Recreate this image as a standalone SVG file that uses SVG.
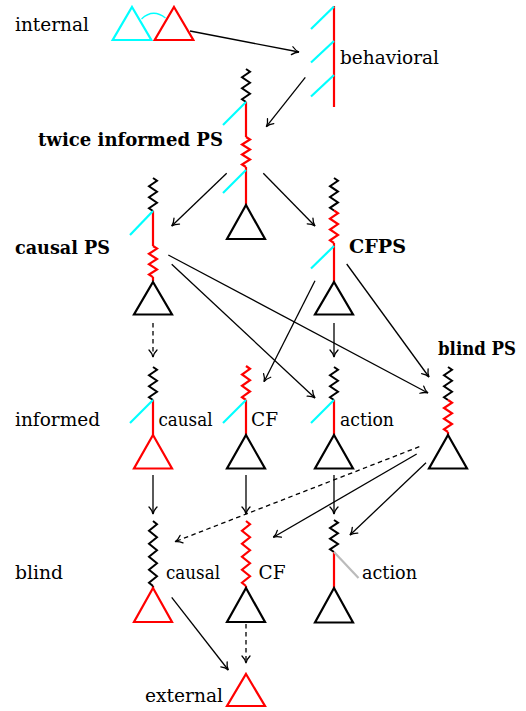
<svg xmlns="http://www.w3.org/2000/svg" width="526" height="711" viewBox="0 0 526 711">
<defs>
<marker id="arr" viewBox="-8 -6 10 12" markerWidth="10" markerHeight="12" refX="0" refY="0" orient="auto" markerUnits="userSpaceOnUse" overflow="visible">
<path d="M-7,-4 C-4.5,-1.5 -2,-0.4 0,0 C-2,0.4 -4.5,1.5 -7,4" fill="none" stroke="#000" stroke-width="1.3" stroke-linecap="round"/>
</marker>
<style>
text{font-family:'DejaVu Serif',serif;font-size:19px;fill:#000}
.b{font-weight:bold}
.k{fill:none;stroke:#000;stroke-width:2.2}
.z{fill:none;stroke-width:2;stroke-linejoin:miter}
.r{fill:none;stroke:#ff0000;stroke-width:2.2}
.c{fill:none;stroke:#00ffff;stroke-width:2.2}
.g{fill:none;stroke:#bbbbbb;stroke-width:2.2}
.tri{stroke-linejoin:miter}
.a{fill:none;stroke:#000;stroke-width:1.3;marker-end:url(#arr)}
.d{stroke-dasharray:4.5 3.5}
</style>
</defs>
<rect width="526" height="711" fill="#fff"/>

<g id="internal">
<text x="15" y="31" textLength="74" lengthAdjust="spacingAndGlyphs">internal</text>
<path class="c tri" d="M132,7 L151.3,40 L112.7,40 Z"/>
<path class="r tri" d="M174,7 L193.3,40 L154.7,40 Z"/>
<path d="M141.5,19 Q153,8 165.5,18" fill="none" stroke="#00ffff" stroke-width="1.3"/>
</g>

<g id="behavioral">
<line class="r" x1="334" y1="6" x2="334" y2="107"/>
<line class="c" x1="311" y1="29" x2="334" y2="6.5"/>
<line class="c" x1="311" y1="62.5" x2="334" y2="41"/>
<line class="c" x1="311" y1="96.5" x2="334" y2="75"/>
<text x="340" y="64" textLength="99" lengthAdjust="spacingAndGlyphs">behavioral</text>
</g>

<g id="twice-informed-ps">
<text class="b" x="38" y="146" textLength="185" lengthAdjust="spacingAndGlyphs">twice informed PS</text>
<path class="k z" d="M246,69 l4,2.75 l-8,5.5 l8,5.5 l-8,5.5 l8,5.5 l-8,5.5 l4,2.75"/>
<line class="r" x1="246" y1="102" x2="246" y2="137"/>
<path class="r z" d="M246,137 l4,2.5 l-8,5 l8,5 l-8,5 l8,5 l-8,5 l4,2.5"/>
<line class="r" x1="246" y1="167" x2="246" y2="205"/>
<line class="c" x1="223" y1="125" x2="246" y2="102"/>
<line class="c" x1="223" y1="193" x2="246" y2="170"/>
<path class="k tri" d="M246,205 L265,239 L227,239 Z"/>
</g>

<g id="causal-ps">
<text class="b" x="15" y="254" textLength="95" lengthAdjust="spacingAndGlyphs">causal PS</text>
<path class="k z" d="M153,178 l4,2.75 l-8,5.5 l8,5.5 l-8,5.5 l8,5.5 l-8,5.5 l4,2.75"/>
<line class="r" x1="153" y1="211" x2="153" y2="246"/>
<path class="r z" d="M153,246 l4,2.6 l-8,5.2 l8,5.2 l-8,5.2 l8,5.2 l-8,5.2 l4,2.6"/>
<line class="r" x1="153" y1="277" x2="153" y2="281"/>
<line class="c" x1="130" y1="235" x2="153" y2="211"/>
<path class="k tri" d="M153,282 L172,314.5 L134,314.5 Z"/>
</g>

<g id="cfps">
<text class="b" x="349" y="253" textLength="57" lengthAdjust="spacingAndGlyphs">CFPS</text>
<path class="k z" d="M334,178 l4,2.71 l-8,5.42 l8,5.42 l-8,5.42 l8,5.42 l-8,5.42 l4,2.71"/>
<path class="r z" d="M334,210.5 l4,2.71 l-8,5.42 l8,5.42 l-8,5.42 l8,5.42 l-8,5.42 l4,2.71"/>
<line class="r" x1="334" y1="243" x2="334" y2="282"/>
<line class="c" x1="311" y1="268.5" x2="334" y2="246"/>
<path class="k tri" d="M334,282 L353,314.5 L315,314.5 Z"/>
</g>

<g id="blind-ps">
<text class="b" x="438" y="355" font-size="18" textLength="78" lengthAdjust="spacingAndGlyphs">blind PS</text>
<path class="k z" d="M448,367 l4,2.75 l-8,5.5 l8,5.5 l-8,5.5 l8,5.5 l-8,5.5 l4,2.75"/>
<path class="r z" d="M448,400 l4,2.67 l-8,5.33 l8,5.33 l-8,5.33 l8,5.33 l-8,5.33 l4,2.67"/>
<line class="r" x1="448" y1="432" x2="448" y2="435"/>
<path class="k tri" d="M448,435 L467,468.5 L429,468.5 Z"/>
</g>

<text x="15" y="426" textLength="85" lengthAdjust="spacingAndGlyphs">informed</text>

<g id="informed-causal">
<path class="k z" d="M153,367 l4,2.75 l-8,5.5 l8,5.5 l-8,5.5 l8,5.5 l-8,5.5 l4,2.75"/>
<line class="r" x1="153" y1="400" x2="153" y2="435"/>
<line class="c" x1="130" y1="423" x2="153" y2="400"/>
<path class="r tri" d="M153,435 L172,468.5 L134,468.5 Z"/>
<text x="158.5" y="426" textLength="54" lengthAdjust="spacingAndGlyphs">causal</text>
</g>

<g id="informed-cf">
<path class="r z" d="M246,366 l4,2.83 l-8,5.67 l8,5.67 l-8,5.67 l8,5.67 l-8,5.67 l4,2.83"/>
<line class="r" x1="246" y1="400" x2="246" y2="435"/>
<line class="c" x1="223" y1="423" x2="246" y2="400"/>
<path class="k tri" d="M246,435 L265,468.5 L227,468.5 Z"/>
<text x="251" y="426" textLength="27" lengthAdjust="spacingAndGlyphs">CF</text>
</g>

<g id="informed-action">
<path class="k z" d="M334,367 l4,2.75 l-8,5.5 l8,5.5 l-8,5.5 l8,5.5 l-8,5.5 l4,2.75"/>
<line class="r" x1="334" y1="400" x2="334" y2="435"/>
<line class="c" x1="311" y1="423" x2="334" y2="400"/>
<path class="k tri" d="M334,435 L353,468.5 L315,468.5 Z"/>
<text x="340" y="426" textLength="54" lengthAdjust="spacingAndGlyphs">action</text>
</g>

<text x="15" y="579" textLength="48" lengthAdjust="spacingAndGlyphs">blind</text>

<g id="blind-causal">
<path class="k z" d="M153,521 l4,3.25 l-8,6.5 l8,6.5 l-8,6.5 l8,6.5 l-8,6.5 l8,6.5 l-8,6.5 l8,6.5 l-8,6.5 l4,3.25"/>
<line class="k" x1="153" y1="586" x2="153" y2="588"/>
<path class="r tri" d="M153,588 L172,622 L134,622 Z"/>
<text x="166" y="579" textLength="54" lengthAdjust="spacingAndGlyphs">causal</text>
</g>

<g id="blind-cf">
<path class="r z" d="M246,521 l4,3.25 l-8,6.5 l8,6.5 l-8,6.5 l8,6.5 l-8,6.5 l8,6.5 l-8,6.5 l8,6.5 l-8,6.5 l4,3.25"/>
<line class="r" x1="246" y1="586" x2="246" y2="588"/>
<path class="k tri" d="M246,588 L265,622 L227,622 Z"/>
<text x="258.5" y="579" textLength="27" lengthAdjust="spacingAndGlyphs">CF</text>
</g>

<g id="blind-action">
<path class="k z" d="M334,520 l4,2.67 l-8,5.33 l8,5.33 l-8,5.33 l8,5.33 l-8,5.33 l4,2.67"/>
<line class="r" x1="334" y1="552" x2="334" y2="588"/>
<line class="g" x1="334" y1="552" x2="358.5" y2="578"/>
<path class="k tri" d="M334,588 L353,622.5 L315,622.5 Z"/>
<text x="362" y="579" textLength="55" lengthAdjust="spacingAndGlyphs">action</text>
</g>

<g id="external">
<text x="145" y="702" textLength="78" lengthAdjust="spacingAndGlyphs">external</text>
<path class="r tri" d="M246,674 L265,706 L227,706 Z"/>
</g>

<g id="connectors">
<line class="a" x1="190" y1="31" x2="299" y2="52"/>
<line class="a" x1="305.3" y1="77.3" x2="266.3" y2="126.7"/>
<line class="a" x1="226.7" y1="173.3" x2="171.7" y2="226"/>
<line class="a" x1="263.3" y1="173.3" x2="315" y2="226"/>
<line class="a" x1="168.3" y1="255" x2="428" y2="393"/>
<line class="a" x1="171.7" y1="264.3" x2="315" y2="398"/>
<line class="a d" x1="153" y1="323" x2="153" y2="357"/>
<line class="a" x1="315" y1="280.7" x2="264" y2="381.7"/>
<line class="a" x1="346.7" y1="264" x2="429" y2="377"/>
<line class="a" x1="334" y1="323" x2="334" y2="357"/>
<line class="a" x1="153" y1="475" x2="153" y2="514"/>
<line class="a" x1="246" y1="475" x2="246" y2="514"/>
<line class="a" x1="334" y1="475" x2="334" y2="514"/>
<line class="a d" x1="419.3" y1="446.7" x2="175" y2="541.7"/>
<line class="a" x1="416.7" y1="454" x2="273.3" y2="537.3"/>
<line class="a" x1="426" y1="462.7" x2="350" y2="535"/>
<line class="a" x1="171.7" y1="597.3" x2="228.3" y2="670"/>
<line class="a d" x1="246" y1="624" x2="246" y2="663"/>
</g>
</svg>
